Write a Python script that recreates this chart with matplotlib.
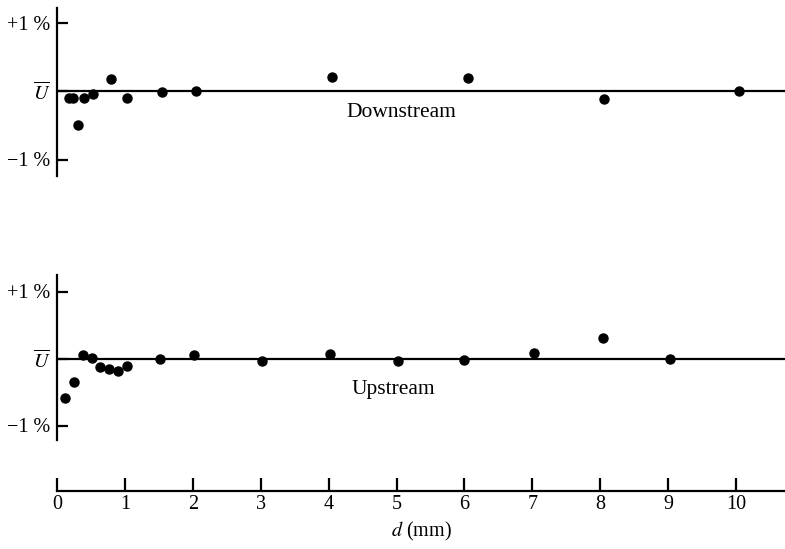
import matplotlib
matplotlib.use("Agg")
import matplotlib.pyplot as plt

plt.rcParams['font.family'] = ['Liberation Serif', 'DejaVu Serif']
plt.rcParams['mathtext.fontset'] = 'stix'

# Data (d in mm, deviation from mean velocity in %)
down_d = [0.17, 0.23, 0.31, 0.40, 0.53, 0.80, 1.03, 1.55, 2.05, 4.05, 6.05, 8.05, 10.05]
down_v = [-0.10, -0.10, -0.50, -0.10, -0.04, 0.18, -0.10, -0.02, 0.0, 0.20, 0.19, -0.12, 0.0]

up_d = [0.12, 0.25, 0.38, 0.51, 0.63, 0.77, 0.90, 1.03, 1.52, 2.02, 3.02, 4.02, 5.02, 6.00, 7.03, 8.04, 9.03]
up_v = [-0.59, -0.35, 0.05, 0.01, -0.12, -0.16, -0.19, -0.11, 0.0, 0.05, -0.04, 0.07, -0.04, -0.02, 0.08, 0.30, 0.0]

ytick_vals = [1, 0, -1]
ytick_labels = ['+1 %', r'$\overline{U}$', '−1 %']
xtick_vals = list(range(0, 11))
xtick_labels = [str(v) for v in xtick_vals]

W, H = 785, 549
fig = plt.figure(figsize=(W / 100, H / 100), dpi=100)

x0_px = 57
px_per_mm = 67.9
xmax = (W - x0_px) / px_per_mm
lw = 1.6
fs_tick = 14.5
fs_text = 15.5


def panel(top_px, bot_px, zero_px, scale, d, v, label, lx, ly):
    ax = fig.add_axes([x0_px / W, 1 - bot_px / H, (W - x0_px) / W, (bot_px - top_px) / H])
    ax.set_xlim(0, xmax)
    ax.set_ylim((zero_px - bot_px) / scale, (zero_px - top_px) / scale)
    for s in ['top', 'right', 'bottom']:
        ax.spines[s].set_visible(False)
    ax.spines['left'].set_linewidth(lw)
    ax.axhline(0, color='black', lw=lw)
    ax.set_xticks([])
    ax.set_yticks(ytick_vals)
    ax.set_yticklabels(ytick_labels, fontsize=fs_tick)
    ax.tick_params(axis='y', direction='in', length=8, width=lw, pad=5)
    ax.plot(d, v, 'o', color='black', markersize=6.5, clip_on=False, zorder=5)
    ax.text(lx, ly, label, fontsize=fs_text, ha='center', va='center')
    ax.patch.set_visible(False)
    return ax


panel(8, 176, 91, 68.5, down_d, down_v, 'Downstream', 5.07, -0.31)
panel(275, 440, 358.5, 67, up_d, up_v, 'Upstream', 4.95, -0.47)

# bottom x axis
axx = fig.add_axes([x0_px / W, 1 - 491 / H, (W - x0_px) / W, 0.02])
axx.set_xlim(0, xmax)
axx.set_ylim(0, 1)
for s in ['top', 'right', 'left']:
    axx.spines[s].set_visible(False)
axx.spines['bottom'].set_linewidth(lw)
axx.set_yticks([])
axx.set_xticks(xtick_vals)
axx.set_xticklabels(xtick_labels, fontsize=fs_tick)
axx.tick_params(axis='x', direction='in', length=9.5, width=lw, pad=3)
axx.set_xlabel(r'$d$ (mm)', fontsize=fs_tick, labelpad=4)
axx.patch.set_visible(False)

fig.savefig('out.png', dpi=100)
